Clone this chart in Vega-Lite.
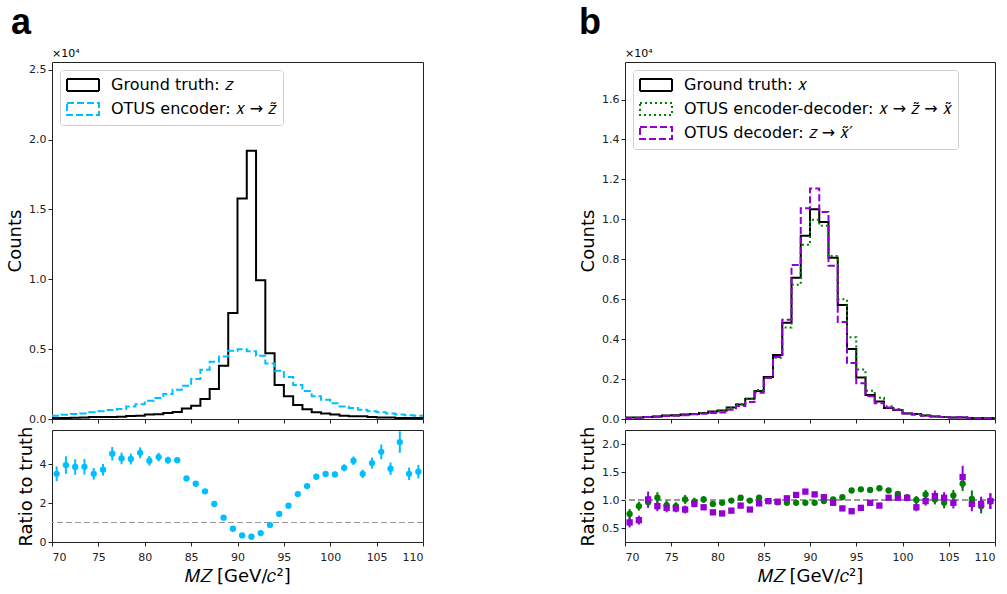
{
  "$schema": "https://vega.github.io/schema/vega-lite/v6.json",
  "padding": {"left": 6, "top": 4, "right": 5, "bottom": 2},
  "datasets": {
    "ha": [
      {"m":70,"truth":69,"enc":240},{"m":71,"truth":78,"enc":310},{"m":72,"truth":94,"enc":360},{"m":73,"truth":104,"enc":400},
      {"m":74,"truth":137,"enc":480},{"m":75,"truth":148,"enc":550},{"m":76,"truth":141,"enc":640},{"m":77,"truth":166,"enc":710},
      {"m":78,"truth":211,"enc":900},{"m":79,"truth":229,"enc":1050},{"m":80,"truth":314,"enc":1310},{"m":81,"truth":344,"enc":1500},
      {"m":82,"truth":426,"enc":1790},{"m":83,"truth":500,"enc":2100},{"m":84,"truth":760,"enc":2380},{"m":85,"truth":950,"enc":2860},
      {"m":86,"truth":1430,"enc":3530},{"m":87,"truth":2140,"enc":4100},{"m":88,"truth":3810,"enc":4480},{"m":89,"truth":7580,"enc":4890},
      {"m":90,"truth":15780,"enc":4990},{"m":91,"truth":19190,"enc":4850},{"m":92,"truth":9930,"enc":4530},{"m":93,"truth":4700,"enc":3980},
      {"m":94,"truth":2430,"enc":3450},{"m":95,"truth":1620,"enc":3000},{"m":96,"truth":1000,"enc":2430},{"m":97,"truth":700,"enc":2000},
      {"m":98,"truth":490,"enc":1620},{"m":99,"truth":400,"enc":1380},{"m":100,"truth":320,"enc":1120},{"m":101,"truth":240,"enc":900},
      {"m":102,"truth":190,"enc":790},{"m":103,"truth":190,"enc":670},{"m":104,"truth":140,"enc":550},{"m":105,"truth":100,"enc":480},
      {"m":106,"truth":110,"enc":400},{"m":107,"truth":65,"enc":330},{"m":108,"truth":74,"enc":260},{"m":109,"truth":67,"enc":240},
      {"m":110,"truth":67,"enc":240}
    ],
    "hb": [
      {"m":70,"truth":70,"encdec":53,"dec":42},{"m":71,"truth":75,"encdec":67,"dec":48},{"m":72,"truth":100,"encdec":96,"dec":101},
      {"m":73,"truth":130,"encdec":135,"dec":116},{"m":74,"truth":175,"encdec":159,"dec":151},{"m":75,"truth":185,"encdec":165,"dec":157},
      {"m":76,"truth":220,"encdec":222,"dec":183},{"m":77,"truth":250,"encdec":243,"dec":233},{"m":78,"truth":300,"encdec":303,"dec":261},
      {"m":79,"truth":380,"encdec":353,"dec":296},{"m":80,"truth":430,"encdec":409,"dec":327},{"m":81,"truth":570,"encdec":564,"dec":462},
      {"m":82,"truth":720,"encdec":749,"dec":648},{"m":83,"truth":1020,"encdec":1010,"dec":847},{"m":84,"truth":1400,"encdec":1456,"dec":1316},
      {"m":85,"truth":2100,"encdec":2058,"dec":2058},{"m":86,"truth":3200,"encdec":3072,"dec":3104},{"m":87,"truth":4820,"encdec":4579,"dec":4965},
      {"m":88,"truth":7080,"encdec":6726,"dec":7717},{"m":89,"truth":9180,"encdec":8721,"dec":10557},{"m":90,"truth":10500,"encdec":9975,"dec":11550},
      {"m":91,"truth":9870,"encdec":9673,"dec":10364},{"m":92,"truth":8080,"encdec":8161,"dec":7676},{"m":93,"truth":5710,"encdec":5996,"dec":4854},
      {"m":94,"truth":3500,"encdec":4095,"dec":2800},{"m":95,"truth":2080,"encdec":2475,"dec":1789},{"m":96,"truth":1200,"encdec":1416,"dec":1140},
      {"m":97,"truth":880,"encdec":1065,"dec":792},{"m":98,"truth":550,"encdec":644,"dec":572},{"m":99,"truth":450,"encdec":500,"dec":468},
      {"m":100,"truth":280,"encdec":291,"dec":291},{"m":101,"truth":250,"encdec":250,"dec":218},{"m":102,"truth":170,"encdec":187,"dec":167},
      {"m":103,"truth":130,"encdec":131,"dec":139},{"m":104,"truth":100,"encdec":95,"dec":104},{"m":105,"truth":80,"encdec":86,"dec":76},
      {"m":106,"truth":70,"encdec":90,"dec":99},{"m":107,"truth":50,"encdec":51,"dec":47},{"m":108,"truth":50,"encdec":45,"dec":47},
      {"m":109,"truth":45,"encdec":44,"dec":44},{"m":110,"truth":45,"encdec":44,"dec":44}
    ],
    "ra": [
      {"m":70.5,"r":3.50,"e":0.38},{"m":71.5,"r":3.95,"e":0.45},{"m":72.5,"r":3.85,"e":0.4},{"m":73.5,"r":3.86,"e":0.4},
      {"m":74.5,"r":3.50,"e":0.3},{"m":75.5,"r":3.71,"e":0.3},{"m":76.5,"r":4.53,"e":0.35},{"m":77.5,"r":4.29,"e":0.3},
      {"m":78.5,"r":4.26,"e":0.28},{"m":79.5,"r":4.58,"e":0.28},{"m":80.5,"r":4.17,"e":0.25},{"m":81.5,"r":4.36,"e":0.22},
      {"m":82.5,"r":4.20,"e":0.18},{"m":83.5,"r":4.20,"e":0.15},{"m":84.5,"r":3.26,"e":0.08},{"m":85.5,"r":2.99,"e":0.06},
      {"m":86.5,"r":2.60,"e":0.05},{"m":87.5,"r":1.95,"e":0.03},{"m":88.5,"r":1.25,"e":0.02},{"m":89.5,"r":0.68,"e":0.01},
      {"m":90.5,"r":0.34,"e":0.005},{"m":91.5,"r":0.27,"e":0.005},{"m":92.5,"r":0.46,"e":0.01},{"m":93.5,"r":0.87,"e":0.02},
      {"m":94.5,"r":1.44,"e":0.03},{"m":95.5,"r":1.86,"e":0.05},{"m":96.5,"r":2.46,"e":0.07},{"m":97.5,"r":2.87,"e":0.08},
      {"m":98.5,"r":3.35,"e":0.1},{"m":99.5,"r":3.49,"e":0.12},{"m":100.5,"r":3.47,"e":0.15},{"m":101.5,"r":3.81,"e":0.18},
      {"m":102.5,"r":4.17,"e":0.22},{"m":103.5,"r":3.50,"e":0.22},{"m":104.5,"r":4.05,"e":0.28},{"m":105.5,"r":4.63,"e":0.38},
      {"m":106.5,"r":3.76,"e":0.32},{"m":107.5,"r":5.13,"e":0.55},{"m":108.5,"r":3.50,"e":0.32},{"m":109.5,"r":3.61,"e":0.35}
    ],
    "rb": [
      {"m":70.5,"s":"encdec","r":0.75,"e":0.09},{"m":71.5,"s":"encdec","r":0.89,"e":0.08},{"m":72.5,"s":"encdec","r":0.96,"e":0.1},
      {"m":73.5,"s":"encdec","r":1.04,"e":0.1},{"m":74.5,"s":"encdec","r":0.91,"e":0.08},{"m":75.5,"s":"encdec","r":0.89,"e":0.07},
      {"m":76.5,"s":"encdec","r":1.01,"e":0.08},{"m":77.5,"s":"encdec","r":0.97,"e":0.07},{"m":78.5,"s":"encdec","r":1.01,"e":0.06},
      {"m":79.5,"s":"encdec","r":0.93,"e":0.05},{"m":80.5,"s":"encdec","r":0.95,"e":0.04},{"m":81.5,"s":"encdec","r":0.99,"e":0.035},
      {"m":82.5,"s":"encdec","r":1.04,"e":0.03},{"m":83.5,"s":"encdec","r":0.99,"e":0.025},{"m":84.5,"s":"encdec","r":1.04,"e":0.02},
      {"m":85.5,"s":"encdec","r":0.98,"e":0.015},{"m":86.5,"s":"encdec","r":0.96,"e":0.012},{"m":87.5,"s":"encdec","r":0.95,"e":0.01},
      {"m":88.5,"s":"encdec","r":0.95,"e":0.01},{"m":89.5,"s":"encdec","r":0.95,"e":0.01},{"m":90.5,"s":"encdec","r":0.95,"e":0.01},
      {"m":91.5,"s":"encdec","r":0.98,"e":0.01},{"m":92.5,"s":"encdec","r":1.01,"e":0.01},{"m":93.5,"s":"encdec","r":1.05,"e":0.012},
      {"m":94.5,"s":"encdec","r":1.17,"e":0.015},{"m":95.5,"s":"encdec","r":1.19,"e":0.02},{"m":96.5,"s":"encdec","r":1.18,"e":0.025},
      {"m":97.5,"s":"encdec","r":1.21,"e":0.03},{"m":98.5,"s":"encdec","r":1.17,"e":0.04},{"m":99.5,"s":"encdec","r":1.11,"e":0.05},
      {"m":100.5,"s":"encdec","r":1.04,"e":0.06},{"m":101.5,"s":"encdec","r":1.00,"e":0.07},{"m":102.5,"s":"encdec","r":1.10,"e":0.08},
      {"m":103.5,"s":"encdec","r":1.01,"e":0.09},{"m":104.5,"s":"encdec","r":0.95,"e":0.1},{"m":105.5,"s":"encdec","r":1.08,"e":0.1},
      {"m":106.5,"s":"encdec","r":1.29,"e":0.13},{"m":107.5,"s":"encdec","r":1.02,"e":0.15},{"m":108.5,"s":"encdec","r":0.89,"e":0.13},
      {"m":109.5,"s":"encdec","r":0.98,"e":0.14},
      {"m":70.5,"s":"dec","r":0.60,"e":0.09},{"m":71.5,"s":"dec","r":0.64,"e":0.08},{"m":72.5,"s":"dec","r":1.01,"e":0.14},
      {"m":73.5,"s":"dec","r":0.89,"e":0.09},{"m":74.5,"s":"dec","r":0.86,"e":0.08},{"m":75.5,"s":"dec","r":0.85,"e":0.07},
      {"m":76.5,"s":"dec","r":0.83,"e":0.07},{"m":77.5,"s":"dec","r":0.93,"e":0.06},{"m":78.5,"s":"dec","r":0.87,"e":0.05},
      {"m":79.5,"s":"dec","r":0.78,"e":0.045},{"m":80.5,"s":"dec","r":0.76,"e":0.04},{"m":81.5,"s":"dec","r":0.81,"e":0.035},
      {"m":82.5,"s":"dec","r":0.90,"e":0.03},{"m":83.5,"s":"dec","r":0.83,"e":0.025},{"m":84.5,"s":"dec","r":0.94,"e":0.02},
      {"m":85.5,"s":"dec","r":0.98,"e":0.015},{"m":86.5,"s":"dec","r":0.97,"e":0.012},{"m":87.5,"s":"dec","r":1.03,"e":0.01},
      {"m":88.5,"s":"dec","r":1.09,"e":0.01},{"m":89.5,"s":"dec","r":1.15,"e":0.01},{"m":90.5,"s":"dec","r":1.10,"e":0.01},
      {"m":91.5,"s":"dec","r":1.05,"e":0.01},{"m":92.5,"s":"dec","r":0.95,"e":0.01},{"m":93.5,"s":"dec","r":0.85,"e":0.012},
      {"m":94.5,"s":"dec","r":0.80,"e":0.015},{"m":95.5,"s":"dec","r":0.86,"e":0.02},{"m":96.5,"s":"dec","r":0.95,"e":0.025},
      {"m":97.5,"s":"dec","r":0.90,"e":0.03},{"m":98.5,"s":"dec","r":1.04,"e":0.04},{"m":99.5,"s":"dec","r":1.04,"e":0.05},
      {"m":100.5,"s":"dec","r":1.04,"e":0.06},{"m":101.5,"s":"dec","r":0.87,"e":0.07},{"m":102.5,"s":"dec","r":0.98,"e":0.08},
      {"m":103.5,"s":"dec","r":1.07,"e":0.1},{"m":104.5,"s":"dec","r":1.04,"e":0.1},{"m":105.5,"s":"dec","r":0.95,"e":0.1},
      {"m":106.5,"s":"dec","r":1.41,"e":0.2},{"m":107.5,"s":"dec","r":0.93,"e":0.13},{"m":108.5,"s":"dec","r":0.93,"e":0.13},
      {"m":109.5,"s":"dec","r":0.98,"e":0.14}
    ]
  },
  "hconcat": [
    {
      "title": {"text": "a", "anchor": "start", "frame": "bounds", "fontSize": 36, "fontWeight": "bold", "font": "Liberation Sans", "offset": 6, "dx": 5},
      "spacing": 0,
      "vconcat": [
        {
          "width": 371, "height": 357,
          "title": {"text": "×10⁴", "anchor": "start", "frame": "group", "fontSize": 11, "fontWeight": "normal", "offset": 3},
          "data": {"name": "ha"},
          "transform": [{"fold": ["truth", "enc"], "as": ["series", "count"]}],
          "mark": {"type": "line", "interpolate": "step-after", "strokeWidth": 2, "clip": true},
          "encoding": {
            "x": {"field": "m", "type": "quantitative", "scale": {"domain": [70, 110], "nice": false, "zero": false},
                  "axis": {"values": [70, 75, 80, 85, 90, 95, 100, 105, 110], "labels": false, "title": null}},
            "y": {"field": "count", "type": "quantitative", "scale": {"domain": [0, 25550], "nice": false},
                  "axis": {"values": [0, 5000, 10000, 15000, 20000, 25000], "labelExpr": "format(datum.value/10000,'.1f')", "title": "Counts"}},
            "stroke": {"field": "series", "type": "nominal", "scale": {"domain": ["truth", "enc"], "range": ["#000000", "#00BFFF"]},
                       "legend": {"title": null, "labelExpr": "datum.value == 'truth' ? 'Ground truth: 𝑧' : 'OTUS encoder: 𝑥 → 𝑧̃'"}},
            "strokeDash": {"field": "series", "type": "nominal", "scale": {"domain": ["truth", "enc"], "range": [[1, 0], [7, 3]]},
                       "legend": {"title": null, "labelExpr": "datum.value == 'truth' ? 'Ground truth: 𝑧' : 'OTUS encoder: 𝑥 → 𝑧̃'"}}
          }
        },
        {
          "width": 371, "height": 112,
          "data": {"name": "ra"},
          "layer": [
            {
              "mark": {"type": "rule", "color": "#9a9a9a", "strokeDash": [6, 3], "strokeWidth": 1.2},
              "encoding": {"y": {"datum": 1, "type": "quantitative", "scale": {"domain": [0, 5.75], "nice": false},
                   "axis": {"values": [0, 2, 4], "title": "Ratio to truth"}}}
            },
            {
              "mark": {"type": "errorbar", "color": "#00BFFF", "rule": {"strokeWidth": 2}},
              "encoding": {
                "x": {"field": "m", "type": "quantitative", "scale": {"domain": [70, 110], "nice": false, "zero": false},
                      "axis": {"values": [70, 75, 80, 85, 90, 95, 100, 105, 110], "title": "𝑀𝑍 [GeV/𝑐²]"}},
                "y": {"field": "r", "type": "quantitative", "axis": {"values": [0, 2, 4], "title": "Ratio to truth"}},
                "yError": {"field": "e"}
              }
            },
            {
              "mark": {"type": "point", "filled": true, "size": 40, "opacity": 1, "color": "#00BFFF"},
              "encoding": {
                "x": {"field": "m", "type": "quantitative", "axis": {"values": [70, 75, 80, 85, 90, 95, 100, 105, 110], "title": "𝑀𝑍 [GeV/𝑐²]"}},
                "y": {"field": "r", "type": "quantitative", "axis": {"values": [0, 2, 4], "title": "Ratio to truth"}}
              }
            }
          ]
        }
      ]
    },
    {
      "title": {"text": "b", "anchor": "start", "frame": "bounds", "fontSize": 36, "fontWeight": "bold", "font": "Liberation Sans", "offset": 6},
      "spacing": 0,
      "vconcat": [
        {
          "width": 370, "height": 357,
          "title": {"text": "×10⁴", "anchor": "start", "frame": "group", "fontSize": 11, "fontWeight": "normal", "offset": 3},
          "data": {"name": "hb"},
          "transform": [{"fold": ["truth", "encdec", "dec"], "as": ["series", "count"]}],
          "mark": {"type": "line", "interpolate": "step-after", "strokeWidth": 2, "clip": true},
          "encoding": {
            "x": {"field": "m", "type": "quantitative", "scale": {"domain": [70, 110], "nice": false, "zero": false},
                  "axis": {"values": [70, 75, 80, 85, 90, 95, 100, 105, 110], "labels": false, "title": null}},
            "y": {"field": "count", "type": "quantitative", "scale": {"domain": [0, 17880], "nice": false},
                  "axis": {"values": [0, 2000, 4000, 6000, 8000, 10000, 12000, 14000, 16000], "labelExpr": "format(datum.value/10000,'.1f')", "title": "Counts"}},
            "stroke": {"field": "series", "type": "nominal", "scale": {"domain": ["truth", "encdec", "dec"], "range": ["#000000", "#008000", "#9400D3"]},
                       "legend": {"title": null, "labelExpr": "datum.value == 'truth' ? 'Ground truth: 𝑥' : datum.value == 'encdec' ? 'OTUS encoder-decoder: 𝑥 → 𝑧̃ → 𝑥̃' : 'OTUS decoder: 𝑧 → 𝑥̃′'"}},
            "strokeDash": {"field": "series", "type": "nominal", "scale": {"domain": ["truth", "encdec", "dec"], "range": [[1, 0], [2, 3], [7, 3]]},
                       "legend": {"title": null, "labelExpr": "datum.value == 'truth' ? 'Ground truth: 𝑥' : datum.value == 'encdec' ? 'OTUS encoder-decoder: 𝑥 → 𝑧̃ → 𝑥̃' : 'OTUS decoder: 𝑧 → 𝑥̃′'"}}
          }
        },
        {
          "width": 370, "height": 112,
          "data": {"name": "rb"},
          "layer": [
            {
              "mark": {"type": "rule", "color": "#9a9a9a", "strokeDash": [6, 3], "strokeWidth": 1.2},
              "encoding": {"y": {"datum": 1, "type": "quantitative", "scale": {"domain": [0.25, 2.25], "nice": false, "zero": false},
                   "axis": {"values": [0.5, 1.0, 1.5, 2.0], "format": ".1f", "title": "Ratio to truth"}}}
            },
            {
              "mark": {"type": "errorbar", "rule": {"strokeWidth": 2}},
              "encoding": {
                "x": {"field": "m", "type": "quantitative", "scale": {"domain": [70, 110], "nice": false, "zero": false},
                      "axis": {"values": [70, 75, 80, 85, 90, 95, 100, 105, 110], "title": "𝑀𝑍 [GeV/𝑐²]"}},
                "y": {"field": "r", "type": "quantitative", "axis": {"values": [0.5, 1.0, 1.5, 2.0], "format": ".1f", "title": "Ratio to truth"}},
                "yError": {"field": "e"},
                "color": {"field": "s", "type": "nominal", "scale": {"domain": ["encdec", "dec"], "range": ["#008000", "#9400D3"]}, "legend": null}
              }
            },
            {
              "mark": {"type": "point", "filled": true, "size": 40, "opacity": 1},
              "encoding": {
                "x": {"field": "m", "type": "quantitative", "axis": {"values": [70, 75, 80, 85, 90, 95, 100, 105, 110], "title": "𝑀𝑍 [GeV/𝑐²]"}},
                "y": {"field": "r", "type": "quantitative", "axis": {"values": [0.5, 1.0, 1.5, 2.0], "format": ".1f", "title": "Ratio to truth"}},
                "color": {"field": "s", "type": "nominal", "scale": {"domain": ["encdec", "dec"], "range": ["#008000", "#9400D3"]}, "legend": null},
                "shape": {"field": "s", "type": "nominal", "scale": {"domain": ["encdec", "dec"], "range": ["circle", "square"]}, "legend": null}
              }
            }
          ]
        }
      ]
    }
  ],
  "spacing": 154,
  "resolve": {"scale": {"stroke": "independent", "strokeDash": "independent", "color": "independent", "shape": "independent"}},
  "config": {
    "font": "DejaVu Sans",
    "view": {"stroke": "#222", "strokeWidth": 1},
    "axis": {"labelFontSize": 11, "titleFontSize": 18, "titleFontWeight": "normal", "labelColor": "#222", "tickColor": "#222",
             "domain": false, "grid": false, "tickSize": 4, "titleColor": "#000", "labelFont": "DejaVu Sans", "titleFont": "DejaVu Sans",
             "labelOverlap": false},
    "axisX": {"labelPadding": 5, "titlePadding": 5},
    "legend": {"orient": "top-left", "offset": 8, "symbolType": "M-2,-0.75H2V0.75H-2Z", "symbolSize": 256, "symbolStrokeWidth": 2,
               "symbolOffset": 8, "labelLimit": 0,
               "labelFontSize": 16, "labelFont": "DejaVu Sans", "labelColor": "#000", "strokeColor": "#d0d0d0", "fillColor": "white",
               "padding": 6, "cornerRadius": 3, "rowPadding": 4, "labelOffset": 19}
  }
}
